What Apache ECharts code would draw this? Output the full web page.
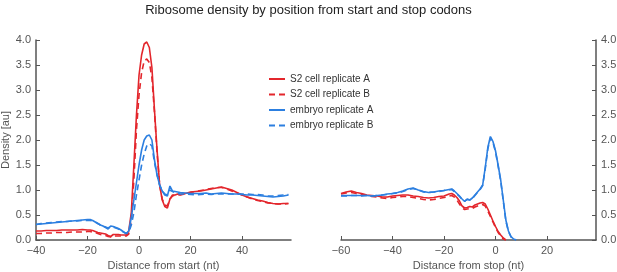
<!DOCTYPE html>
<html>
<head>
<meta charset="utf-8">
<script src="https://cdn.jsdelivr.net/npm/echarts@6/dist/echarts.min.js"></script>
<style>
html,body{margin:0;padding:0;background:#fff;}
#chart{width:617px;height:272px;}
</style>
</head>
<body>
<div id="chart"></div>
<script>
// ---------- DATA ----------
const seriesNames = ["S2 cell replicate A", "S2 cell replicate B", "embryo replicate A", "embryo replicate B"];
const yTicks = [0, 0.5, 1, 1.5, 2, 2.5, 3, 3.5, 4];

// positions relative to start codon
const startX = [-40,-38,-36,-34,-32,-30,-28,-26,-24,-22,
  -20,-19,-18,-17,-16,-15,-14,-13,-12,-11,-10,-9,-8,-7,-6,-5,
  -4,-3,-2,-1,0,1,2,3,4,5,6,7,8,9,10,11,12,13,14,15,16,
  18,20,22,24,26,28,30,32,34,36,38,40,42,44,46,48,50,52,54,56,58];
const s2aStart = [0.18,0.18,0.19,0.19,0.19,0.20,0.20,0.20,0.20,0.21,
  0.20,0.20,0.19,0.17,0.15,0.14,0.13,0.12,0.09,0.07,0.11,0.11,0.11,0.10,0.10,0.10,
  0.18,0.55,1.50,2.50,3.30,3.70,3.92,3.96,3.85,3.45,2.60,1.80,1.10,0.80,0.67,0.64,0.82,0.90,0.90,0.92,0.90,
  0.93,0.96,0.97,0.98,1.00,1.02,1.04,1.06,1.03,1.00,0.95,0.90,0.86,0.83,0.80,0.78,0.75,0.73,0.72,0.73,0.73];
const s2bStart = [0.13,0.13,0.14,0.14,0.15,0.15,0.15,0.16,0.16,0.16,
  0.17,0.17,0.16,0.15,0.13,0.11,0.10,0.09,0.07,0.06,0.08,0.08,0.08,0.08,0.08,0.08,
  0.12,0.40,1.20,2.20,2.90,3.35,3.58,3.62,3.55,3.25,2.55,1.75,1.10,0.82,0.70,0.68,0.82,0.88,0.90,0.90,0.91,
  0.92,0.95,0.97,0.99,1.01,1.03,1.05,1.05,1.02,0.98,0.94,0.90,0.86,0.82,0.79,0.77,0.74,0.73,0.72,0.72,0.73];
const embAStart = [0.31,0.32,0.33,0.34,0.35,0.36,0.37,0.38,0.39,0.40,
  0.41,0.41,0.39,0.36,0.33,0.30,0.28,0.25,0.22,0.28,0.27,0.25,0.23,0.20,0.16,0.13,
  0.18,0.45,0.80,1.15,1.50,1.80,2.00,2.08,2.10,2.00,1.60,1.30,1.10,0.98,0.90,0.88,1.08,0.98,0.97,0.96,0.95,
  0.94,0.93,0.93,0.93,0.94,0.92,0.93,0.94,0.93,0.92,0.92,0.91,0.90,0.90,0.89,0.88,0.87,0.86,0.87,0.88,0.90];
const embBStart = [0.31,0.33,0.34,0.35,0.36,0.37,0.37,0.38,0.38,0.39,
  0.39,0.39,0.38,0.36,0.33,0.30,0.28,0.26,0.24,0.27,0.26,0.24,0.22,0.19,0.16,0.13,
  0.15,0.30,0.55,0.90,1.20,1.50,1.72,1.88,1.93,1.88,1.55,1.30,1.10,0.98,0.92,0.90,1.00,0.97,0.95,0.93,0.92,
  0.92,0.91,0.90,0.91,0.92,0.91,0.92,0.92,0.92,0.92,0.92,0.92,0.92,0.91,0.91,0.90,0.88,0.88,0.89,0.90,0.91];

// positions relative to stop codon
const stopX = [-60,-58,-56,-54,-52,-50,-48,-46,-44,-42,-40,-38,-36,-34,-32,-30,-28,-26,-24,-22,-20,
  -19,-18,-17,-16,-15,-14,-13,-12,-11,-10,-9,-8,-7,-6,-5,-4,-3,-2,-1,0,1,2,3,4,5,6,7,8];
const s2aStop = [0.93,0.96,0.98,0.95,0.93,0.90,0.89,0.88,0.86,0.86,0.88,0.89,0.90,0.90,0.88,0.87,0.85,0.84,0.85,0.87,0.88,
  0.90,0.92,0.93,0.90,0.85,0.78,0.68,0.64,0.65,0.67,0.66,0.70,0.72,0.74,0.75,0.72,0.62,0.50,0.38,0.27,0.17,0.10,0.04,0.00,null,null,null,null];
const s2bStop = [0.92,0.94,0.95,0.93,0.91,0.89,0.87,0.86,0.84,0.83,0.85,0.86,0.87,0.87,0.85,0.83,0.81,0.80,0.81,0.83,0.85,
  0.86,0.88,0.89,0.86,0.80,0.72,0.64,0.61,0.62,0.63,0.63,0.66,0.68,0.70,0.71,0.68,0.58,0.47,0.36,0.25,0.15,0.08,0.02,0.00,null,null,null,null];
const embAStop = [0.89,0.89,0.89,0.89,0.89,0.89,0.88,0.89,0.90,0.92,0.93,0.95,0.98,1.02,1.04,1.00,0.97,0.95,0.96,0.98,0.99,
  1.00,1.01,1.02,0.98,0.93,0.88,0.82,0.77,0.82,0.80,0.84,0.90,0.96,1.02,1.10,1.45,1.85,2.07,1.97,1.78,1.50,1.20,0.80,0.40,0.18,0.07,0.02,0.00];
const embBStop = [0.88,0.88,0.89,0.89,0.88,0.89,0.88,0.89,0.90,0.91,0.93,0.94,0.97,1.01,1.03,1.00,0.96,0.95,0.96,0.97,0.99,
  1.00,1.00,1.01,0.97,0.92,0.87,0.81,0.78,0.81,0.80,0.83,0.89,0.95,1.01,1.09,1.42,1.82,2.04,1.95,1.76,1.48,1.18,0.78,0.38,0.17,0.06,0.02,0.00];

// ---------- CHART ----------
const RED = '#e3262c', BLUE = '#2c7fe0';
const AXIS = '#555555', LABEL = '#555555';
const FONT = 'Liberation Sans, Arial, sans-serif';

function pairs(xs, ys) {
  const out = [];
  xs.forEach((x, i) => { if (ys[i] !== null && ys[i] !== undefined) out.push([x, ys[i]]); });
  return out;
}
function mk(name, xs, ys, color, dashed, gi) {
  return {
    name: name, type: 'line', xAxisIndex: gi, yAxisIndex: gi,
    data: pairs(xs, ys), symbol: 'none', showSymbol: false, smooth: false, animation: false,
    lineStyle: { color: color, width: 1.6, type: dashed ? [6, 4] : 'solid' },
    itemStyle: { color: color }
  };
}
function xAxisCfg(gi, min, max, name) {
  return {
    type: 'value', gridIndex: gi, min: min, max: max, interval: 20,
    name: name, nameLocation: 'middle', nameGap: 20,
    nameTextStyle: { color: LABEL, fontSize: 11, fontFamily: FONT },
    axisLine: { show: true, onZero: false, lineStyle: { color: AXIS, width: 1.5 } },
    axisTick: { show: true, inside: true, length: 4, lineStyle: { color: AXIS, width: 1 } },
    axisLabel: { color: LABEL, fontSize: 11, margin: 5, showMaxLabel: false, fontFamily: FONT,
      formatter: v => (v < 0 ? '\u2212' + Math.abs(v) : String(v)) },
    splitLine: { show: false }
  };
}
function yAxisCfg(gi, pos, name) {
  return {
    type: 'value', gridIndex: gi, min: yTicks[0], max: yTicks[yTicks.length - 1], interval: 0.5,
    position: pos,
    name: name, nameLocation: 'middle', nameGap: 24,
    nameTextStyle: { color: LABEL, fontSize: 11, fontFamily: FONT },
    axisLine: { show: true, onZero: false, lineStyle: { color: AXIS, width: 1.5 } },
    axisTick: { show: true, inside: true, length: 4, lineStyle: { color: AXIS, width: 1 } },
    axisLabel: { color: LABEL, fontSize: 11, margin: 5, fontFamily: FONT,
      formatter: v => v.toFixed(1) },
    splitLine: { show: false }
  };
}

const chart = echarts.init(document.getElementById('chart'), null, { renderer: 'canvas' });
chart.setOption({
  animation: false,
  backgroundColor: '#fff',
  title: {
    text: 'Ribosome density by position from start and stop codons',
    left: 'center', top: -1,
    textStyle: { color: '#222', fontSize: 13, fontWeight: 'normal', fontFamily: FONT }
  },
  legend: {
    data: seriesNames, orient: 'vertical', left: 263, top: 69,
    itemWidth: 16, itemHeight: 10, itemGap: 5.5,
    itemStyle: { opacity: 0 },
    textStyle: { color: '#333', fontSize: 10, fontFamily: FONT }
  },
  grid: [
    { left: 36, top: 40, width: 255, height: 200, containLabel: false, outerBoundsMode: 'none' },
    { left: 341, top: 40, width: 255, height: 200, containLabel: false, outerBoundsMode: 'none' }
  ],
  xAxis: [
    xAxisCfg(0, -40, 59, 'Distance from start (nt)'),
    xAxisCfg(1, -60, 39, 'Distance from stop (nt)')
  ],
  yAxis: [
    yAxisCfg(0, 'left', 'Density [au]'),
    yAxisCfg(1, 'right', '')
  ],
  series: [
    mk(seriesNames[0], startX, s2aStart, RED, false, 0),
    mk(seriesNames[1], startX, s2bStart, RED, true, 0),
    mk(seriesNames[2], startX, embAStart, BLUE, false, 0),
    mk(seriesNames[3], startX, embBStart, BLUE, true, 0),
    mk(seriesNames[0], stopX, s2aStop, RED, false, 1),
    mk(seriesNames[1], stopX, s2bStop, RED, true, 1),
    mk(seriesNames[2], stopX, embAStop, BLUE, false, 1),
    mk(seriesNames[3], stopX, embBStop, BLUE, true, 1)
  ]
});
</script>
</body>
</html>
